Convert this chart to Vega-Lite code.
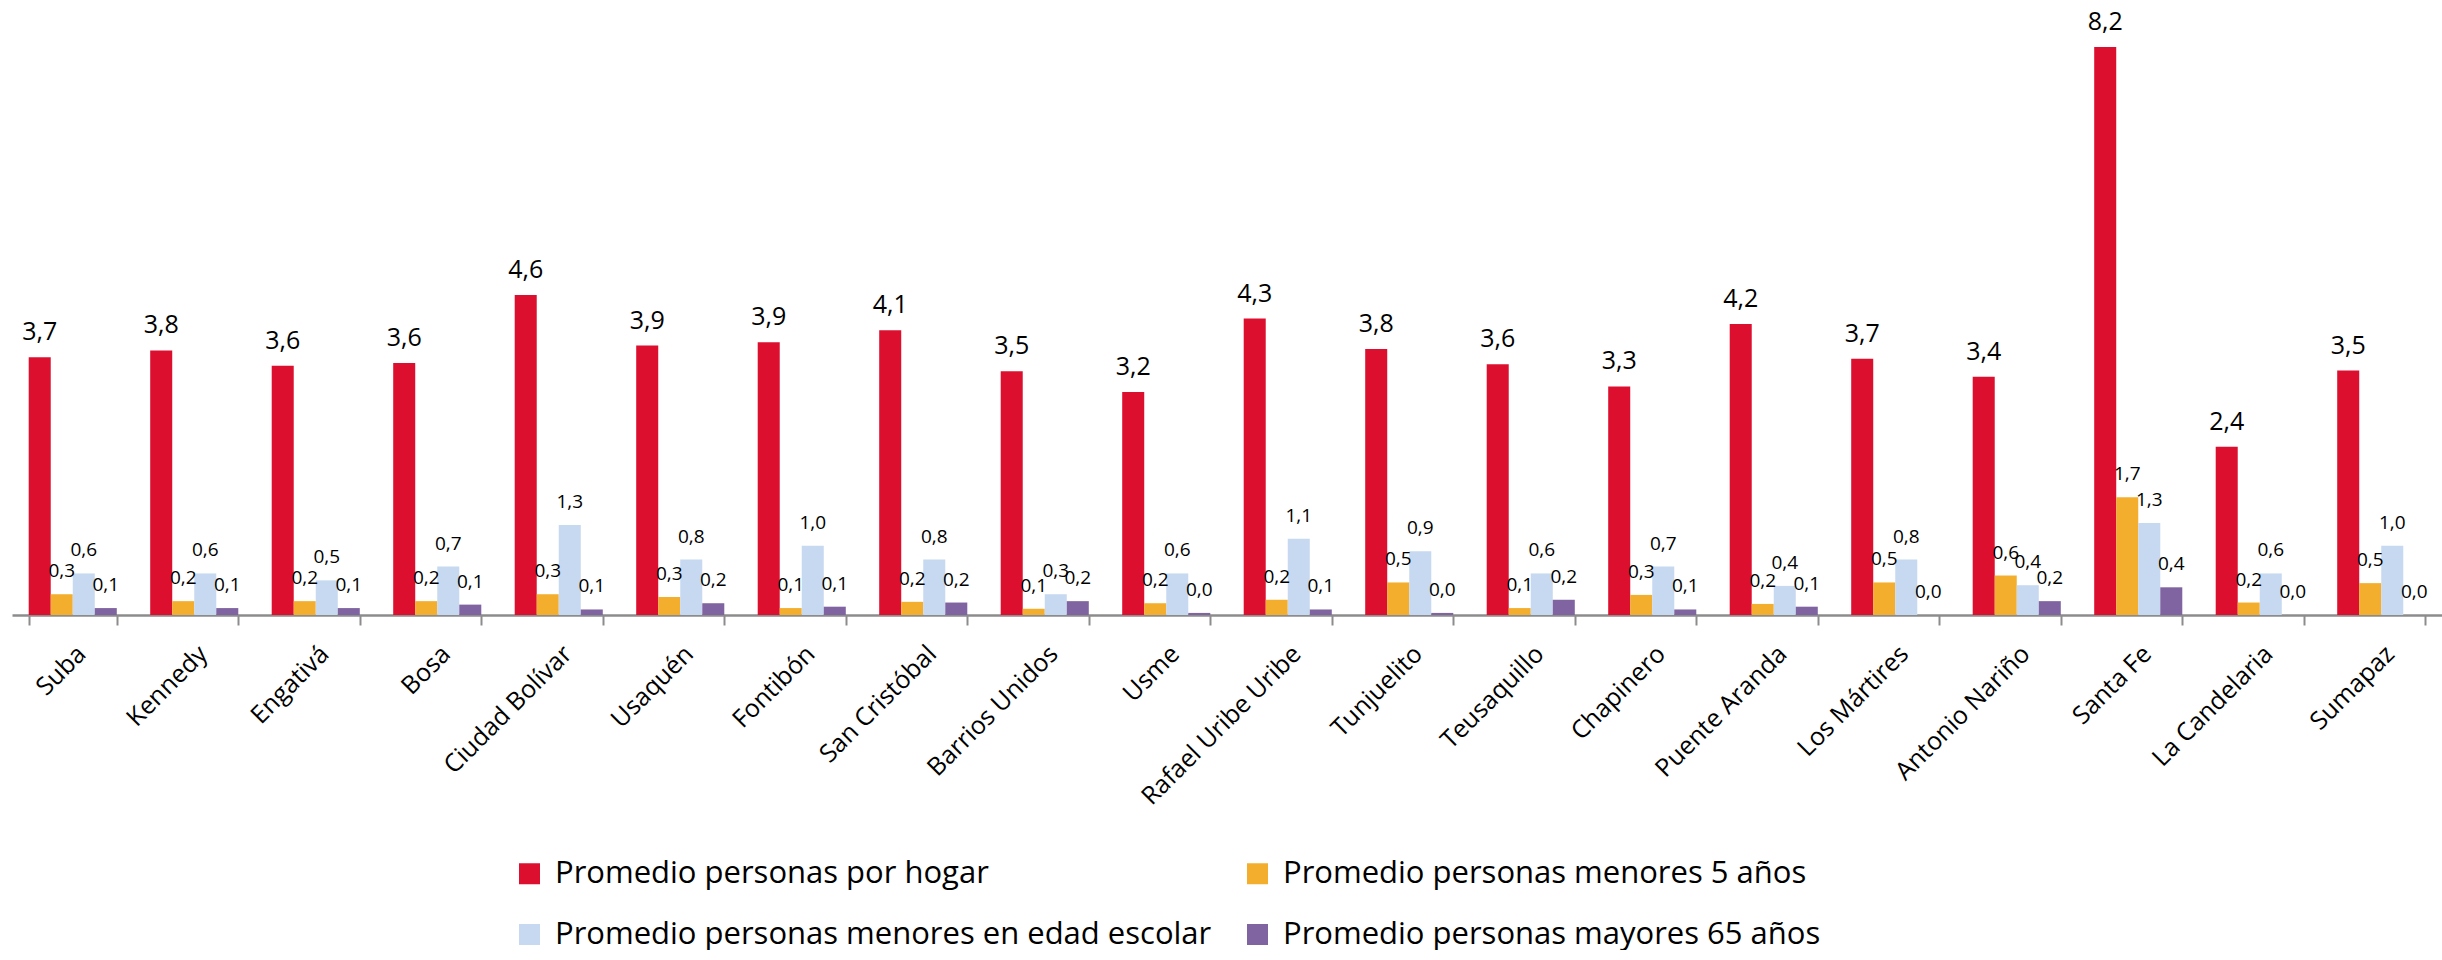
{
  "$schema": "https://vega.github.io/schema/vega-lite/v6.json",
  "width": 2430,
  "height": 615,
  "padding": {"left": 12, "top": 0, "right": 0, "bottom": 0},
  "config": {
    "locale": {"number": {"decimal": ",", "thousands": ".", "grouping": [3], "currency": ["$", ""]}},
    "view": {"stroke": null},
    "font": "Open Sans"
  },
  "datasets": {
    "d": [
      {"localidad": "Suba", "serie": "Promedio personas por hogar", "valor": 3.72},
      {"localidad": "Suba", "serie": "Promedio personas menores 5 años", "valor": 0.3},
      {"localidad": "Suba", "serie": "Promedio personas menores en edad escolar", "valor": 0.6},
      {"localidad": "Suba", "serie": "Promedio personas mayores 65 años", "valor": 0.1},
      {"localidad": "Kennedy", "serie": "Promedio personas por hogar", "valor": 3.82},
      {"localidad": "Kennedy", "serie": "Promedio personas menores 5 años", "valor": 0.2},
      {"localidad": "Kennedy", "serie": "Promedio personas menores en edad escolar", "valor": 0.6},
      {"localidad": "Kennedy", "serie": "Promedio personas mayores 65 años", "valor": 0.1},
      {"localidad": "Engativá", "serie": "Promedio personas por hogar", "valor": 3.6},
      {"localidad": "Engativá", "serie": "Promedio personas menores 5 años", "valor": 0.2},
      {"localidad": "Engativá", "serie": "Promedio personas menores en edad escolar", "valor": 0.5},
      {"localidad": "Engativá", "serie": "Promedio personas mayores 65 años", "valor": 0.1},
      {"localidad": "Bosa", "serie": "Promedio personas por hogar", "valor": 3.64},
      {"localidad": "Bosa", "serie": "Promedio personas menores 5 años", "valor": 0.2},
      {"localidad": "Bosa", "serie": "Promedio personas menores en edad escolar", "valor": 0.7},
      {"localidad": "Bosa", "serie": "Promedio personas mayores 65 años", "valor": 0.15},
      {"localidad": "Ciudad Bolívar", "serie": "Promedio personas por hogar", "valor": 4.62},
      {"localidad": "Ciudad Bolívar", "serie": "Promedio personas menores 5 años", "valor": 0.3},
      {"localidad": "Ciudad Bolívar", "serie": "Promedio personas menores en edad escolar", "valor": 1.3},
      {"localidad": "Ciudad Bolívar", "serie": "Promedio personas mayores 65 años", "valor": 0.08},
      {"localidad": "Usaquén", "serie": "Promedio personas por hogar", "valor": 3.89},
      {"localidad": "Usaquén", "serie": "Promedio personas menores 5 años", "valor": 0.26},
      {"localidad": "Usaquén", "serie": "Promedio personas menores en edad escolar", "valor": 0.8},
      {"localidad": "Usaquén", "serie": "Promedio personas mayores 65 años", "valor": 0.17},
      {"localidad": "Fontibón", "serie": "Promedio personas por hogar", "valor": 3.94},
      {"localidad": "Fontibón", "serie": "Promedio personas menores 5 años", "valor": 0.1},
      {"localidad": "Fontibón", "serie": "Promedio personas menores en edad escolar", "valor": 1.0},
      {"localidad": "Fontibón", "serie": "Promedio personas mayores 65 años", "valor": 0.12},
      {"localidad": "San Cristóbal", "serie": "Promedio personas por hogar", "valor": 4.11},
      {"localidad": "San Cristóbal", "serie": "Promedio personas menores 5 años", "valor": 0.19},
      {"localidad": "San Cristóbal", "serie": "Promedio personas menores en edad escolar", "valor": 0.8},
      {"localidad": "San Cristóbal", "serie": "Promedio personas mayores 65 años", "valor": 0.18},
      {"localidad": "Barrios Unidos", "serie": "Promedio personas por hogar", "valor": 3.52},
      {"localidad": "Barrios Unidos", "serie": "Promedio personas menores 5 años", "valor": 0.09},
      {"localidad": "Barrios Unidos", "serie": "Promedio personas menores en edad escolar", "valor": 0.3},
      {"localidad": "Barrios Unidos", "serie": "Promedio personas mayores 65 años", "valor": 0.2},
      {"localidad": "Usme", "serie": "Promedio personas por hogar", "valor": 3.22},
      {"localidad": "Usme", "serie": "Promedio personas menores 5 años", "valor": 0.17},
      {"localidad": "Usme", "serie": "Promedio personas menores en edad escolar", "valor": 0.6},
      {"localidad": "Usme", "serie": "Promedio personas mayores 65 años", "valor": 0.03},
      {"localidad": "Rafael Uribe Uribe", "serie": "Promedio personas por hogar", "valor": 4.28},
      {"localidad": "Rafael Uribe Uribe", "serie": "Promedio personas menores 5 años", "valor": 0.22},
      {"localidad": "Rafael Uribe Uribe", "serie": "Promedio personas menores en edad escolar", "valor": 1.1},
      {"localidad": "Rafael Uribe Uribe", "serie": "Promedio personas mayores 65 años", "valor": 0.08},
      {"localidad": "Tunjuelito", "serie": "Promedio personas por hogar", "valor": 3.84},
      {"localidad": "Tunjuelito", "serie": "Promedio personas menores 5 años", "valor": 0.47},
      {"localidad": "Tunjuelito", "serie": "Promedio personas menores en edad escolar", "valor": 0.92},
      {"localidad": "Tunjuelito", "serie": "Promedio personas mayores 65 años", "valor": 0.03},
      {"localidad": "Teusaquillo", "serie": "Promedio personas por hogar", "valor": 3.62},
      {"localidad": "Teusaquillo", "serie": "Promedio personas menores 5 años", "valor": 0.1},
      {"localidad": "Teusaquillo", "serie": "Promedio personas menores en edad escolar", "valor": 0.6},
      {"localidad": "Teusaquillo", "serie": "Promedio personas mayores 65 años", "valor": 0.22},
      {"localidad": "Chapinero", "serie": "Promedio personas por hogar", "valor": 3.3},
      {"localidad": "Chapinero", "serie": "Promedio personas menores 5 años", "valor": 0.29},
      {"localidad": "Chapinero", "serie": "Promedio personas menores en edad escolar", "valor": 0.7},
      {"localidad": "Chapinero", "serie": "Promedio personas mayores 65 años", "valor": 0.08},
      {"localidad": "Puente Aranda", "serie": "Promedio personas por hogar", "valor": 4.2},
      {"localidad": "Puente Aranda", "serie": "Promedio personas menores 5 años", "valor": 0.16},
      {"localidad": "Puente Aranda", "serie": "Promedio personas menores en edad escolar", "valor": 0.42},
      {"localidad": "Puente Aranda", "serie": "Promedio personas mayores 65 años", "valor": 0.12},
      {"localidad": "Los Mártires", "serie": "Promedio personas por hogar", "valor": 3.7},
      {"localidad": "Los Mártires", "serie": "Promedio personas menores 5 años", "valor": 0.47},
      {"localidad": "Los Mártires", "serie": "Promedio personas menores en edad escolar", "valor": 0.8},
      {"localidad": "Los Mártires", "serie": "Promedio personas mayores 65 años", "valor": 0.0},
      {"localidad": "Antonio Nariño", "serie": "Promedio personas por hogar", "valor": 3.44},
      {"localidad": "Antonio Nariño", "serie": "Promedio personas menores 5 años", "valor": 0.57},
      {"localidad": "Antonio Nariño", "serie": "Promedio personas menores en edad escolar", "valor": 0.43},
      {"localidad": "Antonio Nariño", "serie": "Promedio personas mayores 65 años", "valor": 0.2},
      {"localidad": "Santa Fe", "serie": "Promedio personas por hogar", "valor": 8.2},
      {"localidad": "Santa Fe", "serie": "Promedio personas menores 5 años", "valor": 1.7},
      {"localidad": "Santa Fe", "serie": "Promedio personas menores en edad escolar", "valor": 1.33},
      {"localidad": "Santa Fe", "serie": "Promedio personas mayores 65 años", "valor": 0.4},
      {"localidad": "La Candelaria", "serie": "Promedio personas por hogar", "valor": 2.43},
      {"localidad": "La Candelaria", "serie": "Promedio personas menores 5 años", "valor": 0.18},
      {"localidad": "La Candelaria", "serie": "Promedio personas menores en edad escolar", "valor": 0.6},
      {"localidad": "La Candelaria", "serie": "Promedio personas mayores 65 años", "valor": 0.0},
      {"localidad": "Sumapaz", "serie": "Promedio personas por hogar", "valor": 3.53},
      {"localidad": "Sumapaz", "serie": "Promedio personas menores 5 años", "valor": 0.46},
      {"localidad": "Sumapaz", "serie": "Promedio personas menores en edad escolar", "valor": 1.0},
      {"localidad": "Sumapaz", "serie": "Promedio personas mayores 65 años", "valor": 0.0}
    ]
  },
  "data": {"name": "d"},
  "encoding": {
    "x": {
      "field": "localidad",
      "type": "nominal",
      "sort": null,
      "scale": {"paddingInner": 0.275, "paddingOuter": 0.1375},
      "axis": {
        "title": null,
        "labelAngle": -45,
        "labelFontSize": 25,
        "labelFont": "Open Sans",
        "labelColor": "#000000",
        "labelPadding": 16,
        "labelOffset": 0,
        "labelLimit": 400,
        "domainColor": "#8c8c8c",
        "domainWidth": 2.5,
        "tickColor": "#8c8c8c",
        "tickWidth": 2,
        "tickSize": 10,
        "tickBand": "extent"
      }
    },
    "xOffset": {
      "field": "serie",
      "type": "nominal",
      "sort": ["Promedio personas por hogar", "Promedio personas menores 5 años", "Promedio personas menores en edad escolar", "Promedio personas mayores 65 años"],
      "scale": {"paddingInner": 0, "paddingOuter": 0}
    },
    "y": {
      "field": "valor",
      "type": "quantitative",
      "scale": {"domain": [0, 8.88], "nice": false, "zero": true},
      "axis": null
    }
  },
  "layer": [
    {
      "mark": {"type": "bar"},
      "encoding": {
        "color": {
          "field": "serie",
          "type": "nominal",
          "scale": {
            "domain": ["Promedio personas por hogar", "Promedio personas menores 5 años", "Promedio personas menores en edad escolar", "Promedio personas mayores 65 años"],
            "range": ["#DC0F2E", "#F4AE2D", "#C6D9F0", "#8064A2"]
          },
          "legend": {
            "title": null,
            "orient": "none",
            "legendX": 502,
            "legendY": 858,
            "direction": "horizontal",
            "columns": 2,
            "labelFontSize": 31,
            "labelFont": "Open Sans",
            "labelColor": "#000000",
            "labelLimit": 1200,
            "labelOffset": 10,
            "symbolType": "square",
            "symbolSize": 441,
            "symbolStrokeWidth": 0,
            "symbolOpacity": 1,
            "rowPadding": 29,
            "columnPadding": 30,
            "padding": 0
          }
        }
      }
    },
    {
      "mark": {"type": "text", "baseline": "alphabetic", "dy": -17, "color": "#000000", "font": "Open Sans"},
      "encoding": {
        "text": {"field": "valor", "type": "quantitative", "format": ".1f"},
        "size": {
          "condition": {"test": "datum.serie === 'Promedio personas por hogar'", "value": 25},
          "value": 19
        }
      }
    }
  ]
}
